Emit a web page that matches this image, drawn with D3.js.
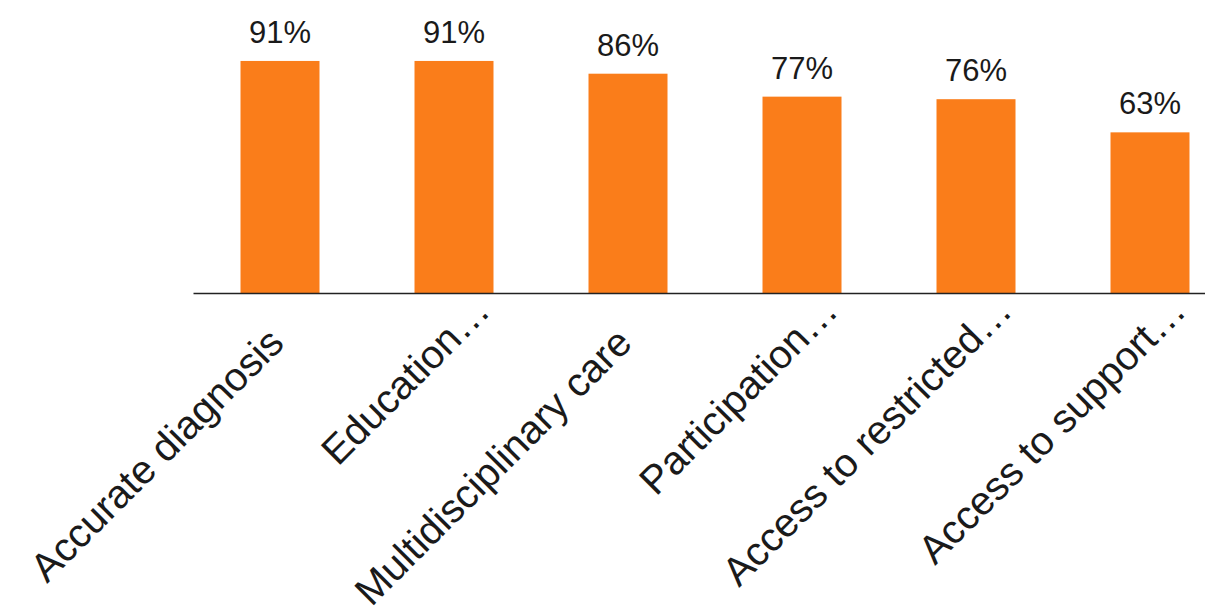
<!DOCTYPE html>
<html>
<head>
<meta charset="utf-8">
<script src="https://cdn.jsdelivr.net/npm/d3@7"></script>
<style>
  body { margin: 0; background: #fff; }
  text { font-family: "Liberation Sans", Arial, sans-serif; }
</style>
</head>
<body>
<div id="chart"></div>
<script>
// chart data
var categories = ["Accurate diagnosis", "Education\u2026", "Multidisciplinary care",
  "Participation\u2026", "Access to restricted\u2026", "Access to support\u2026"];
var values = [91, 91, 86, 77, 76, 63];

var svgWidth = 1205;
var svgHeight = 612;
var baseY = 293;

var svg = d3.select("#chart")
  .append("svg")
  .attr("width", svgWidth)
  .attr("height", svgHeight);

// band scale runs past the right edge, the last band is cut like in the original
var x = d3.scaleBand()
  .domain(categories)
  .range([193, 1237])
  .paddingInner(0.546)
  .paddingOuter(0.273);

var y = d3.scaleLinear()
  .domain([0, 100])
  .range([baseY, 38]);

var data = categories.map(function(c, i) { return {cat: c, val: values[i]}; });

// bars
svg.selectAll("rect.bar")
  .data(data)
  .enter()
  .append("rect")
  .attr("class", "bar")
  .attr("x", d => x(d.cat))
  .attr("y", d => y(d.val))
  .attr("width", x.bandwidth())
  .attr("height", d => baseY - y(d.val))
  .attr("fill", "#fa7d1a");

// value labels
svg.selectAll("text.val")
  .data(data)
  .enter()
  .append("text")
  .attr("class", "val")
  .attr("x", d => x(d.cat) + x.bandwidth() / 2)
  .attr("y", d => y(d.val) - 18)
  .attr("text-anchor", "middle")
  .style("font-size", "31px")
  .style("fill", "#1a1a1a")
  .text(d => d.val + "%");

// x axis
var xAxis = svg.append("g")
  .attr("transform", `translate(0, ${baseY})`)
  .call(d3.axisBottom(x).tickSize(0).tickSizeOuter(0));

xAxis.select(".domain")
  .attr("stroke", "#222")
  .attr("stroke-width", 1.6);

xAxis.selectAll(".tick text")
  .attr("x", null)
  .attr("y", null)
  .attr("dy", null)
  .attr("text-anchor", "end")
  .attr("transform", function(d) {
    // truncated labels sit a bit further right along the same diagonal
    var dx = d.endsWith("\u2026") ? 38 : 6;
    var dy = 58 - dx;
    return `translate(${dx}, ${dy}) rotate(-45)`;
  })
  .style("font-size", "40px")
  .style("font-family", "'Liberation Sans', Arial, sans-serif")
  .style("fill", "#1a1a1a");
</script>
</body>
</html>
